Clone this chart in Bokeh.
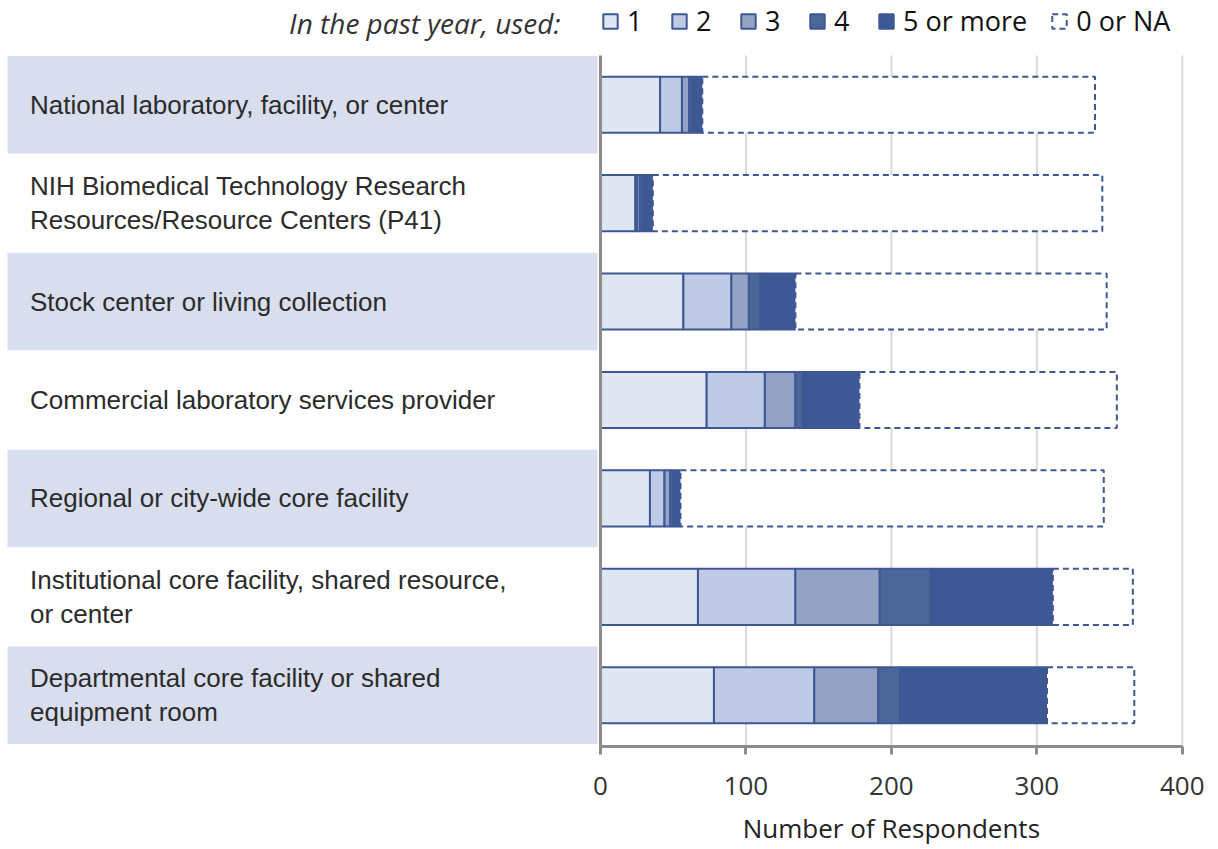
from bokeh.plotting import figure
from bokeh.models import Range1d, LinearAxis, FixedTicker, Legend, LegendItem, Label, ColumnDataSource
from bokeh.core.properties import value
from bokeh.transform import stack
from bokeh.embed import file_html
from bokeh.resources import INLINE

# ---------------- data (bottom row first) ----------------
categories = [
    "Departmental core facility or shared\nequipment room",
    "Institutional core facility, shared resource,\nor center",
    "Regional or city-wide core facility",
    "Commercial laboratory services provider",
    "Stock center or living collection",
    "NIH Biomedical Technology Research\nResources/Resource Centers (P41)",
    "National laboratory, facility, or center",
]
used_1 = [78, 67, 34, 73, 57, 24, 41]
used_2 = [69, 67, 10, 40, 33, 1, 15]
used_3 = [44, 58, 4, 21, 12, 2, 5]
used_4 = [15, 35, 2, 5, 8, 2, 2]
used_5_or_more = [101, 84, 5, 39, 24, 7, 7]
none_or_na = [60, 55, 291, 177, 214, 309, 270]
shaded_rows = [True, False, True, False, True, False, True]
series_labels = ["1", "2", "3", "4", "5 or more"]
na_label = "0 or NA"
x_ticks = [0, 100, 200, 300, 400]
legend_title = "In the past year, used:"
x_title = "Number of Respondents"

# ---------------- styling / layout ----------------
colors = ["#dfe5f2", "#bfcbe4", "#94a3c5", "#4d6699", "#3d5894"]
edge = "#3d5894"
band_color = "#d8deed"
axis_gray = "#8c8c8c"

W, H = 1216, 848
ZERO_PX = 600            # page x of value 0
PX_PER_UNIT = 1.4545     # horizontal pixels per respondent
ROW_PX = 98.43           # height of one category band
BASE_PX = 744            # page y of the bottom of the last band


def px_to_x(px):
    return (px - ZERO_PX) / PX_PER_UNIT


def py_to_y(py):
    return (BASE_PX - py) / ROW_PX


ys = [i + 0.5 for i in range(len(categories))]
source = ColumnDataSource(dict(
    y=ys, u1=used_1, u2=used_2, u3=used_3, u4=used_4, u5=used_5_or_more, na=none_or_na,
    label=categories,
))

axis_y = py_to_y(746)
p = figure(width=W, height=H,
           x_range=Range1d(px_to_x(0), px_to_x(W)),
           y_range=Range1d(py_to_y(H), py_to_y(0)),
           output_backend="svg", toolbar_location=None, min_border=0,
           x_axis_type=None, y_axis_type=None)
p.outline_line_color = None
p.background_fill_color = "white"

# label bands and category labels
band_y = [y for y, s in zip(ys, shaded_rows) if s]
p.quad(left=px_to_x(7), right=px_to_x(597), bottom=[y - 0.495 for y in band_y],
       top=[y + 0.495 for y in band_y], fill_color=band_color, line_color=None)
p.text(x=px_to_x(29.5), y="y", text="label", source=source, text_font=value("Liberation Sans"),
       text_font_size="26px", text_baseline="middle", text_align="left", text_color="#2b2b2b",
       text_line_height=1.12)

# vertical grid lines
grid_x = x_ticks[1:]
p.segment(x0=grid_x, y0=[axis_y] * len(grid_x), x1=grid_x, y1=[len(categories)] * len(grid_x),
          line_color="#d9d9d9", line_width=2)

# stacked bars
keys = ["u1", "u2", "u3", "u4", "u5"]
bar_h = 0.57
renderers = p.hbar_stack(keys, y="y", height=bar_h, color=colors, line_color=edge, line_width=2,
                         source=source)
na_r = p.hbar(y="y", left=stack(*keys), right=stack(*keys, "na"), height=bar_h, source=source,
              fill_color="white", line_color=edge, line_width=2, line_dash="6 4")

# vertical line at zero
p.segment(x0=[0], y0=[axis_y], x1=[0], y1=[len(categories)], line_color=axis_gray, line_width=3)

# x axis, fixed at the bottom of the bands
xaxis = LinearAxis(ticker=FixedTicker(ticks=x_ticks), bounds=(0, 400), fixed_location=axis_y)
xaxis.axis_line_color = axis_gray
xaxis.axis_line_width = 3
xaxis.major_tick_line_color = axis_gray
xaxis.major_tick_line_width = 3
xaxis.major_tick_out = 8
xaxis.major_tick_in = 0
xaxis.minor_tick_line_color = None
xaxis.major_label_text_font = "Open Sans"
xaxis.major_label_text_font_size = "26px"
xaxis.major_label_text_color = "#333333"
xaxis.major_label_standoff = 22
p.add_layout(xaxis, "below")

# axis title centred under the 0-400 axis
p.text(x=[sum(x_ticks[::len(x_ticks) - 1]) / 2], y=[py_to_y(827)], text=[x_title],
       text_font=value("Open Sans"), text_font_size="26px", text_color="#222222",
       text_align="center", text_baseline="middle")

# legend
items = [LegendItem(label=lab, renderers=[r]) for lab, r in zip(series_labels, renderers)]
items.append(LegendItem(label=na_label, renderers=[na_r]))
legend = Legend(items=items, orientation="horizontal", location=(601, H - 39),
                padding=0, margin=0, spacing=23, label_standoff=8,
                glyph_width=18, glyph_height=18,
                label_text_font="Open Sans", label_text_font_size="27px", label_text_color="#111111",
                border_line_color=None, background_fill_alpha=0)
p.add_layout(legend, "center")

p.add_layout(Label(x=px_to_x(560), y=py_to_y(22), text=legend_title, text_align="right",
                   text_baseline="middle", text_font="Open Sans", text_font_style="italic",
                   text_font_size="28px", text_color="#333333"))

open("out.html", "w").write(file_html(p, INLINE))
